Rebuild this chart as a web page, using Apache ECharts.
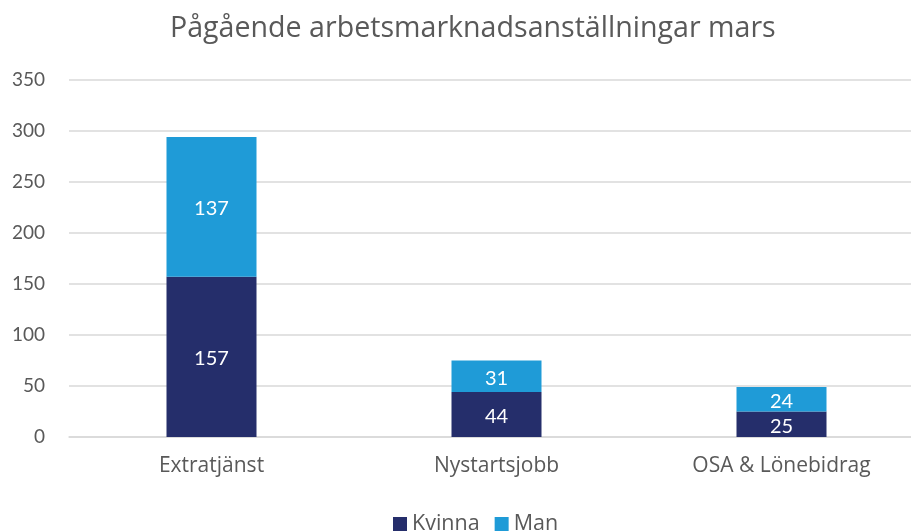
<!DOCTYPE html>
<html><head><meta charset="utf-8">
<script src="https://cdn.jsdelivr.net/npm/echarts@6/dist/echarts.min.js"></script>
<style>html,body{margin:0;padding:0;background:#fff}#c{width:911px;height:531px}</style>
</head><body><div id="c"></div>
<script>
const categories = ['Extratjänst', 'Nystartsjobb', 'OSA & Lönebidrag'];
const kvinna = [157, 44, 25];
const man = [137, 31, 24];
const yTicks = [0, 50, 100, 150, 200, 250, 300, 350];

const chart = echarts.init(document.getElementById('c'));
const font = '"Open Sans", sans-serif';
const numFont = 'Lato, sans-serif';
const lbl = { show: true, position: 'inside', offset: [0, 2], color: '#fff', fontSize: 20, fontFamily: numFont };
chart.setOption({
  animation: false,
  title: { text: 'Pågående arbetsmarknadsanställningar mars', left: 165, top: 9,
    textStyle: { color: '#595959', fontSize: 28.6, fontWeight: 'normal', fontFamily: font } },
  legend: { top: 508, left: 388, itemWidth: 14, itemHeight: 14, itemGap: 15,
    icon: 'rect', textStyle: { color: '#595959', fontSize: 21.5, fontFamily: font } },
  grid: { left: 69, top: 80, width: 855, height: 357, containLabel: false, outerBoundsMode: 'none' },
  xAxis: { type: 'category', data: categories,
    axisLine: { show: true, lineStyle: { color: '#d9d9d9', width: 1.5 } },
    axisTick: { show: false },
    axisLabel: { color: '#595959', fontSize: 21, fontFamily: font, margin: 19 } },
  yAxis: { type: 'value', min: 0, max: 350, interval: 50,
    axisLabel: { color: '#595959', fontSize: 19, fontFamily: numFont, margin: 24,
      formatter: v => yTicks.includes(v) ? String(v) : '' },
    splitLine: { lineStyle: { color: '#d9d9d9', width: 1.5 } },
    axisLine: { show: false }, axisTick: { show: false } },
  series: [
    { name: 'Kvinna', type: 'bar', stack: 's', data: kvinna, barWidth: 90,
      itemStyle: { color: '#252E6B' }, label: lbl },
    { name: 'Man', type: 'bar', stack: 's', data: man, barWidth: 90,
      itemStyle: { color: '#1F9BD7' }, label: lbl }
  ]
});
</script></body></html>
